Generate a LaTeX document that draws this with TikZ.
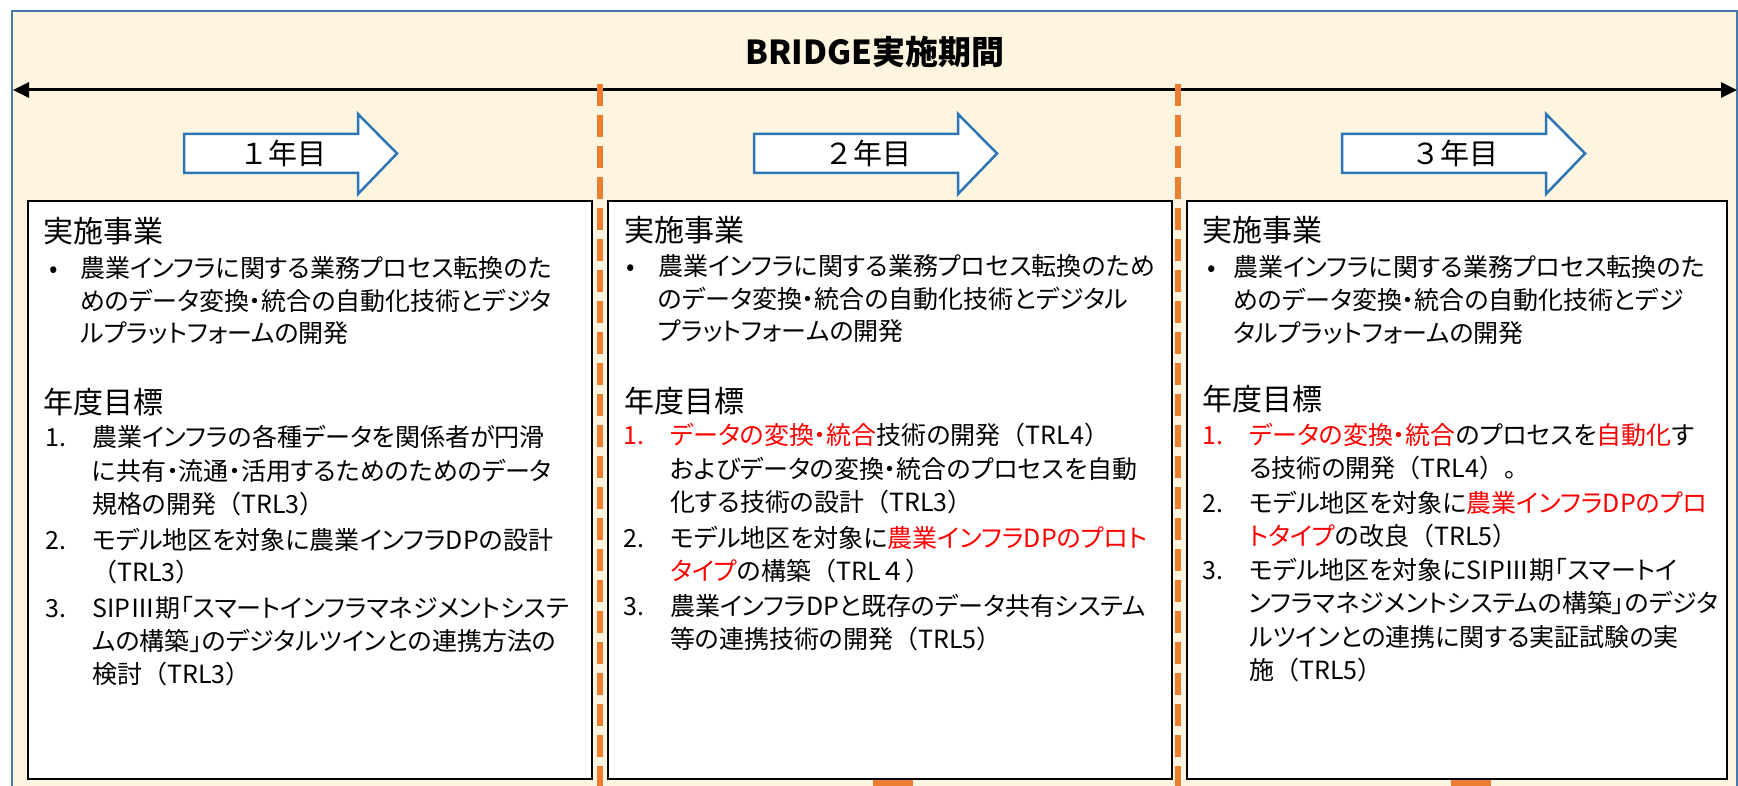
\documentclass[tikz,border=0pt]{standalone}
\usepackage{fontspec}
\setmainfont{Noto Sans CJK JP}[RawFeature=+palt]
\newfontfamily\fw{Noto Sans CJK JP}
\usetikzlibrary{arrows.meta}
\definecolor{cream}{HTML}{FEF5E0}
\definecolor{frameblue}{HTML}{4A78A8}
\definecolor{arrowblue}{HTML}{2E75B6}
\definecolor{dashorange}{HTML}{ED7D31}
\definecolor{hired}{HTML}{FF0000}
\newcounter{tlc}
\newcommand\tl[3]{\stepcounter{tlc}\node[txt] (t\the\value{tlc}) at (#1,#2) {#3};}
\newcommand\hd[3]{\stepcounter{tlc}\node[headtxt] (t\the\value{tlc}) at (#1,#2) {#3};}
\newcommand\rd[1]{\textcolor{hired}{#1}}
\newcommand\LP{{\fw （}}
\newcommand\RP{{\fw ）}}
\begin{document}
\begin{tikzpicture}[x=1pt,y=-1pt,
  txt/.style={anchor=base west, inner sep=0pt, font=\fontsize{25}{28}\selectfont, text=black},
  headtxt/.style={anchor=base west, inner sep=0pt, font=\fontsize{30}{36}\selectfont, text=black},
  yearbox/.style={draw=black, line width=2pt, fill=white, anchor=north west, inner sep=0pt},
  yeararrow/.style={draw=arrowblue, line width=2.5pt, fill=white, line join=miter},
  yeartxt/.style={inner sep=0pt, font=\fontsize{29}{32}\fw},
  orangedash/.style={dashorange, line width=6pt, dash pattern=on 22pt off 9pt},
  periodline/.style={line width=3pt, >={Triangle[length=16pt,width=15pt]}, <->}]
\useasboundingbox (0,0) rectangle (1738,786);
\clip (0,0) rectangle (1738,786);
\fill[white] (0,0) rectangle (1738,786);
\draw[frameblue, line width=2.5pt, fill=cream] (12,11) rectangle (1737,830);
% title
\node[inner sep=0pt, font=\fontsize{33}{36}\selectfont\bfseries] (title) at (875,52) {BRIDGE実施期間};
% period arrow
\coordinate (pl) at (13,90);
\coordinate (pr) at (1737,90);
\draw[periodline] (pl) -- (pr);
% dashed separators
\coordinate (d1t) at (600,84); \coordinate (d1b) at (600,790);
\coordinate (d2t) at (1178,84); \coordinate (d2b) at (1178,790);
\draw[orangedash] (d1t) -- (d1b);
\draw[orangedash] (d2t) -- (d2b);
% orange stubs at bottom
\fill[dashorange] (873,776) rectangle (913,786);
\fill[dashorange] (1451,776) rectangle (1491,786);
% boxes
\node[yearbox, minimum width=564pt, minimum height=578pt] (box1) at (27,200) {};
\node[yearbox, minimum width=564pt, minimum height=578pt] (box2) at (607,200) {};
\node[yearbox, minimum width=540pt, minimum height=578pt] (box3) at (1186,200) {};
% year arrows
\draw[yeararrow] (184,134) -- (358,134) -- (358,114) -- (397,153.5) -- (358,194) -- (358,173) -- (184,173) -- cycle;
\node[yeartxt] (y1) at (283,153) {１年目};
\draw[yeararrow] (754,134) -- (958,134) -- (958,114) -- (997,153.5) -- (958,194) -- (958,173) -- (754,173) -- cycle;
\node[yeartxt] (y2) at (868,153) {２年目};
\draw[yeararrow] (1342,134) -- (1546,134) -- (1546,114) -- (1585,153.5) -- (1546,194) -- (1546,173) -- (1342,173) -- cycle;
\node[yeartxt] (y3) at (1455,153) {３年目};
% ---- box 1
\hd{43}{243}{実施事業}
\tl{49}{278}{•}
\tl{80}{278}{農業インフラに関する業務プロセス転換のた}
\tl{80}{311}{めのデータ変換・統合の自動化技術とデジタ}
\tl{80}{343}{ルプラットフォームの開発}
\hd{43}{413}{年度目標}
\tl{45}{446}{1.}
\tl{92}{446}{農業インフラの各種データを関係者が円滑}
\tl{92}{480}{に共有・流通・活用するためのためのデータ}
\tl{92}{513}{規格の開発\LP TRL3\RP}
\tl{45}{549}{2.}
\tl{92}{549}{モデル地区を対象に農業インフラDPの設計}
\tl{92}{581}{\LP TRL3\RP}
\tl{45}{617}{3.}
\tl{92}{617}{SIPⅢ期「スマートインフラマネジメントシステ}
\tl{92}{650}{ムの構築」のデジタルツインとの連携方法の}
\tl{92}{683}{検討\LP TRL3\RP}
% ---- box 2
\hd{624}{242}{実施事業}
\tl{626}{276}{•}
\tl{658}{276}{農業インフラに関する業務プロセス転換のため}
\tl{658}{309}{のデータ変換・統合の自動化技術とデジタル}
\tl{658}{341}{プラットフォームの開発}
\hd{624}{412}{年度目標}
\tl{623}{444}{\rd{1.}}
\tl{670}{444}{\rd{データの変換・統合}技術の開発\LP TRL4\RP}
\tl{670}{478}{およびデータの変換・統合のプロセスを自動}
\tl{670}{511}{化する技術の設計\LP TRL3\RP}
\tl{623}{547}{2.}
\tl{670}{547}{モデル地区を対象に\rd{農業インフラDPのプロト}}
\tl{670}{580}{\rd{タイプ}の構築\LP TRL{\fw ４}\RP}
\tl{623}{615}{3.}
\tl{670}{615}{農業インフラDPと既存のデータ共有システム}
\tl{670}{648}{等の連携技術の開発\LP TRL5\RP}
% ---- box 3
\hd{1202}{242}{実施事業}
\tl{1207}{277}{•}
\tl{1233}{277}{農業インフラに関する業務プロセス転換のた}
\tl{1233}{310}{めのデータ変換・統合の自動化技術とデジ}
\tl{1233}{342}{タルプラットフォームの開発}
\hd{1202}{410}{年度目標}
\tl{1202}{444}{\rd{1.}}
\tl{1249}{444}{\rd{データの変換・統合}のプロセスを\rd{自動化}す}
\tl{1249}{477}{る技術の開発\LP TRL4\RP{\fw 。}}
\tl{1202}{512}{2.}
\tl{1249}{512}{モデル地区を対象に\rd{農業インフラDPのプロ}}
\tl{1249}{545}{\rd{トタイプ}の改良\LP TRL5\RP}
\tl{1202}{579}{3.}
\tl{1249}{579}{モデル地区を対象にSIPⅢ期「スマートイ}
\tl{1249}{612}{ンフラマネジメントシステムの構築」のデジタ}
\tl{1249}{646}{ルツインとの連携に関する実証試験の実}
\tl{1249}{679}{施\LP TRL5\RP}
\end{tikzpicture}
\end{document}
